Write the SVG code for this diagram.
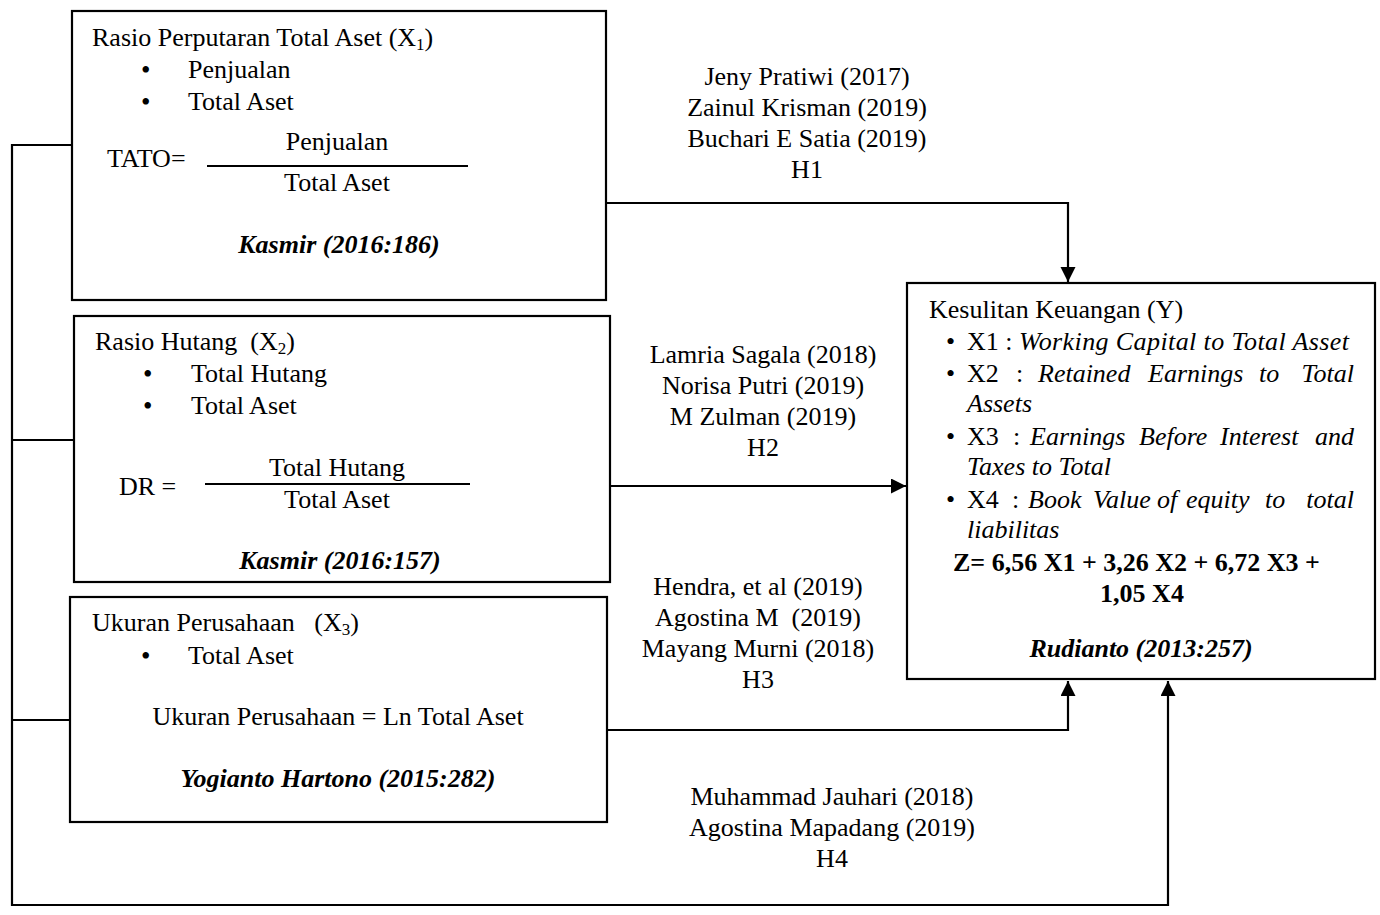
<svg xmlns="http://www.w3.org/2000/svg" width="1380" height="915" viewBox="0 0 1380 915">
<style>
text{font-family:"Liberation Serif","Times New Roman",serif;font-size:26px;fill:#000}
.c{text-anchor:middle}
.i{font-style:italic}
.b{font-weight:bold}
.bi{font-weight:bold;font-style:italic}
.box{fill:#fff;stroke:#000;stroke-width:2.2}
.ln{fill:none;stroke:#000;stroke-width:2.2}
.e{text-anchor:end}
.bul{font-size:27px}
.sb{font-size:26px}
</style>
<defs>
<marker id="arr" markerWidth="16" markerHeight="16" refX="15" refY="7.5" orient="auto" markerUnits="userSpaceOnUse">
<path d="M0,0 L15,7.5 L0,15 Z" fill="#000"/>
</marker>
</defs>
<g id="connectors">
<polyline class="ln" points="72,145 12,145 12,905 1168,905 1168,681" marker-end="url(#arr)"/>
<line class="ln" x1="12" y1="440" x2="74" y2="440"/>
<line class="ln" x1="12" y1="720" x2="70" y2="720"/>
<polyline class="ln" points="606,203 1068,203 1068,282" marker-end="url(#arr)"/>
<line class="ln" x1="610" y1="486" x2="906" y2="486" marker-end="url(#arr)"/>
<polyline class="ln" points="607,730 1068,730 1068,681" marker-end="url(#arr)"/>
</g>
<g id="label-h1">
<text class="c" x="807" y="85">Jeny Pratiwi (2017)</text>
<text class="c" x="807" y="116">Zainul Krisman (2019)</text>
<text class="c" x="807" y="147">Buchari E Satia (2019)</text>
<text class="c" x="807" y="178">H1</text>
</g>
<g id="label-h2">
<text class="c" x="763" y="363">Lamria Sagala (2018)</text>
<text class="c" x="763" y="394">Norisa Putri (2019)</text>
<text class="c" x="763" y="425">M Zulman (2019)</text>
<text class="c" x="763" y="456">H2</text>
</g>
<g id="label-h3">
<text class="c" x="758" y="595">Hendra, et al (2019)</text>
<text class="c" x="758" y="626" xml:space="preserve">Agostina M  (2019)</text>
<text class="c" x="758" y="657">Mayang Murni (2018)</text>
<text class="c" x="758" y="688">H3</text>
</g>
<g id="label-h4">
<text class="c" x="832" y="805">Muhammad Jauhari (2018)</text>
<text class="c" x="832" y="836">Agostina Mapadang (2019)</text>
<text class="c" x="832" y="867">H4</text>
</g>
<g id="node-x1">
<rect class="box" x="72" y="11" width="534" height="289"/>
<text x="92" y="46" xml:space="preserve">Rasio Perputaran Total Aset (X<tspan font-size="17" dy="4">1</tspan><tspan dy="-4">)</tspan></text>
<text class="bul" x="141" y="79">•</text><text x="188" y="78">Penjualan</text>
<text class="bul" x="141" y="111">•</text><text x="188" y="110">Total Aset</text>
<text x="107" y="167">TATO=</text>
<text class="c" x="337" y="150">Penjualan</text>
<line class="ln" x1="207" y1="166" x2="468" y2="166"/>
<text class="c" x="337" y="191">Total Aset</text>
<text class="c bi" x="339" y="253">Kasmir (2016:186)</text>
</g>
<g id="node-x2">
<rect class="box" x="74" y="316" width="536" height="266"/>
<text x="95" y="350" xml:space="preserve">Rasio Hutang  (X<tspan font-size="17" dy="4">2</tspan><tspan dy="-4">)</tspan></text>
<text class="bul" x="143" y="383">•</text><text x="191" y="382">Total Hutang</text>
<text class="bul" x="143" y="415">•</text><text x="191" y="414">Total Aset</text>
<text x="119" y="495">DR =</text>
<text class="c" x="337" y="476">Total Hutang</text>
<line class="ln" x1="205" y1="484" x2="470" y2="484"/>
<text class="c" x="337" y="508">Total Aset</text>
<text class="c bi" x="340" y="569">Kasmir (2016:157)</text>
</g>
<g id="node-x3">
<rect class="box" x="70" y="597" width="537" height="225"/>
<text x="92" y="631" xml:space="preserve">Ukuran Perusahaan   (X<tspan font-size="17" dy="4">3</tspan><tspan dy="-4">)</tspan></text>
<text class="bul" x="141" y="665">•</text><text x="188" y="664">Total Aset</text>
<text class="c" x="338" y="725">Ukuran Perusahaan = Ln Total Aset</text>
<text class="c bi" x="338" y="787">Yogianto Hartono (2015:282)</text>
</g>
<g id="node-y">
<rect class="box" x="907" y="283" width="468" height="396"/>
<text x="929" y="318">Kesulitan Keuangan (Y)</text>
<text class="sb" x="946" y="350">•</text>
<text x="967" y="350">X1 : <tspan class="i" textLength="330" lengthAdjust="spacing">Working Capital to Total Asset</tspan></text>
<text class="sb" x="946" y="382">•</text>
<text y="382"><tspan x="967">X2</tspan><tspan x="1016">:</tspan><tspan class="i" x="1038">Retained</tspan><tspan class="i" x="1148">Earnings</tspan><tspan class="i" x="1259">to</tspan></text>
<text class="i e" x="1354" y="382">Total</text>
<text class="i" x="967" y="412">Assets</text>
<text class="sb" x="946" y="445">•</text>
<text y="445"><tspan x="967">X3</tspan><tspan x="1013">:</tspan><tspan class="i" x="1030">Earnings</tspan><tspan class="i" x="1139">Before</tspan><tspan class="i" x="1220">Interest</tspan></text>
<text class="i e" x="1354" y="445">and</text>
<text class="i" x="967" y="475">Taxes to Total</text>
<text class="sb" x="946" y="508">•</text>
<text y="508"><tspan x="967">X4</tspan><tspan x="1012">:</tspan><tspan class="i" x="1028">Book</tspan><tspan class="i" x="1093">Value</tspan><tspan class="i" x="1157">of</tspan><tspan class="i" x="1186">equity</tspan><tspan class="i" x="1265">to</tspan></text>
<text class="i e" x="1354" y="508">total</text>
<text class="i" x="967" y="538">liabilitas</text>
<text class="b" x="953" y="571">Z= 6,56 X1 + 3,26 X2 + 6,72 X3 +</text>
<text class="b c" x="1142" y="602">1,05 X4</text>
<text class="bi c" x="1141" y="657">Rudianto (2013:257)</text>
</g>
</svg>
